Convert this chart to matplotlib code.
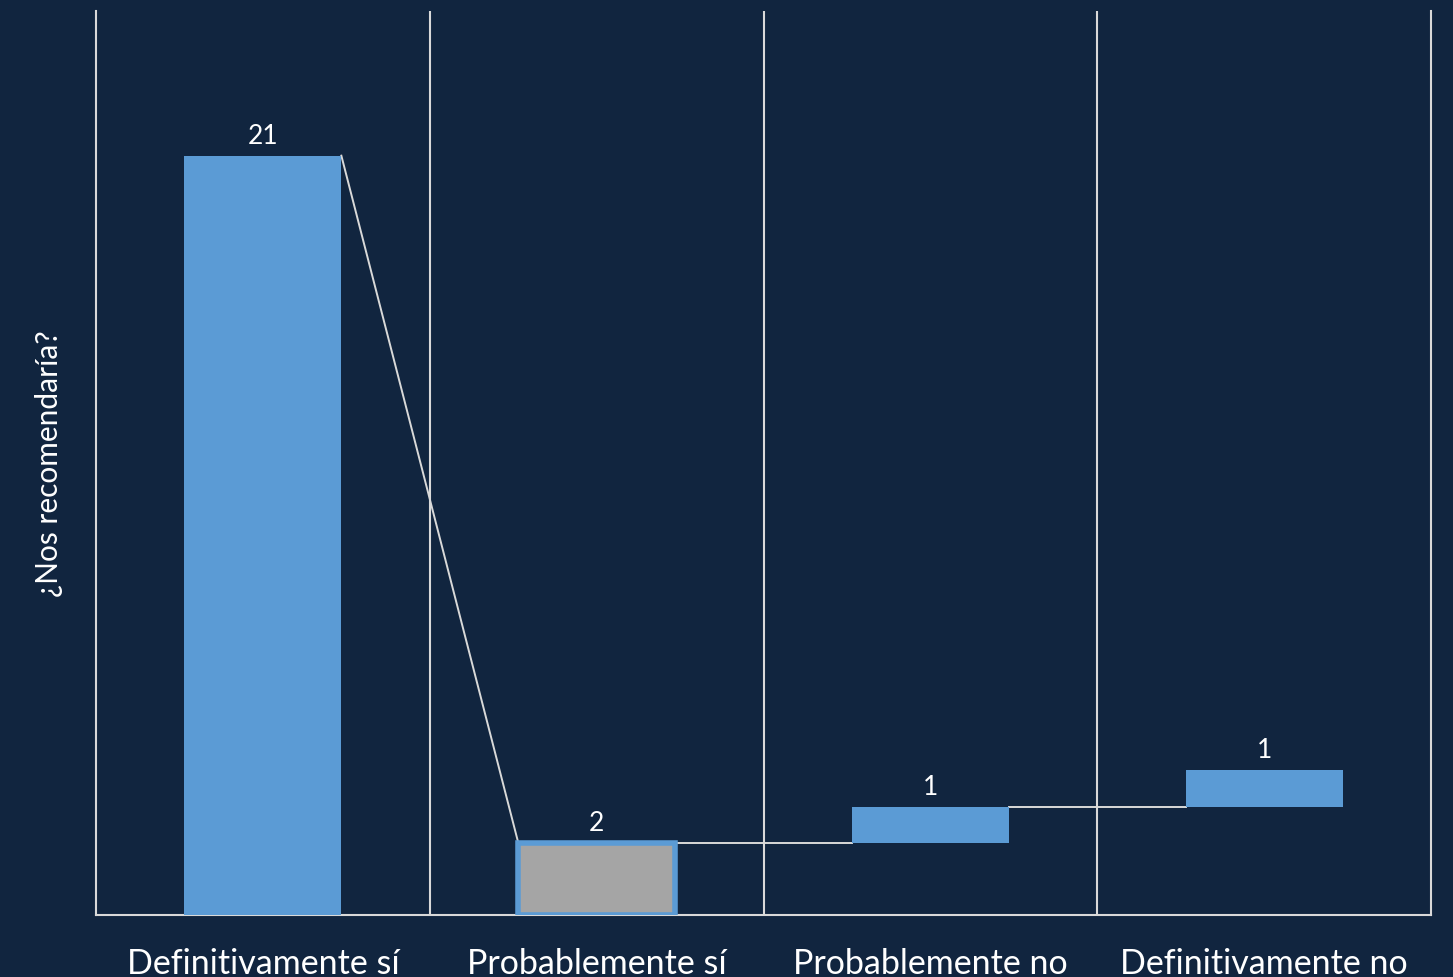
import numpy as np
import matplotlib.pyplot as plt

# Datos de la gráfica (cascada)
categorias = ['Definitivamente sí', 'Probablemente sí', 'Probablemente no', 'Definitivamente no']
valores = [21, 2, 1, 1]
es_total = [False, True, False, False]

bg = '#11253F'
azul = '#5B9BD5'
gris = '#A5A5A5'
linea = '#D9D9D9'

# Bases y niveles de la cascada
bases, finales, inicios = [], [], []
acum = 0
for v, tot in zip(valores, es_total):
    if tot:
        bases.append(0); inicios.append(v); acum = v
    else:
        bases.append(acum); inicios.append(acum); acum += v
    finales.append(acum)

fig = plt.figure(figsize=(14.53, 9.78), dpi=100, facecolor=bg)
ax = fig.add_axes([0.0661, 0.0634, 0.9188, 0.9243], facecolor=bg)
plt.rcParams['font.family'] = ['Lato', 'DejaVu Sans']
fam = ['Lato', 'DejaVu Sans']

x = np.arange(len(categorias))
w = 0.47
for i in range(len(x)):
    if es_total[i]:
        ax.bar(x[i], valores[i], w, bottom=bases[i], color=gris, edgecolor=azul,
               linewidth=4, zorder=3)
    else:
        ax.bar(x[i], valores[i], w, bottom=bases[i], color=azul, zorder=3)
    ax.text(x[i], bases[i] + valores[i] + 0.22, str(valores[i]), ha='center', va='bottom',
            color='white', fontsize=19, family=fam)

# Conectores
for i in range(len(x) - 1):
    ax.plot([x[i] + w / 2, x[i + 1] - w / 2], [finales[i], inicios[i + 1]],
            color=linea, lw=1.4, zorder=2)

# Separadores verticales
for b in np.arange(0.5, len(x) - 1, 1):
    ax.axvline(b, color=linea, lw=1.5, zorder=1)

ax.set_xlim(-0.5, len(x) - 0.5)
ax.set_ylim(0, 25)
ax.set_yticks([])
ax.set_xticks(x)
ax.set_xticklabels(categorias, fontsize=24.5, color='white', family=fam)
ax.tick_params(axis='x', length=0, pad=23)
for s in ['left', 'right', 'bottom']:
    ax.spines[s].set_color(linea)
    ax.spines[s].set_linewidth(1.5)
ax.spines['top'].set_visible(False)
ax.set_ylabel('¿Nos recomendaría?', fontsize=21.5, color='white', labelpad=24, family=fam)

fig.savefig('out.png', dpi=100, facecolor=bg)
